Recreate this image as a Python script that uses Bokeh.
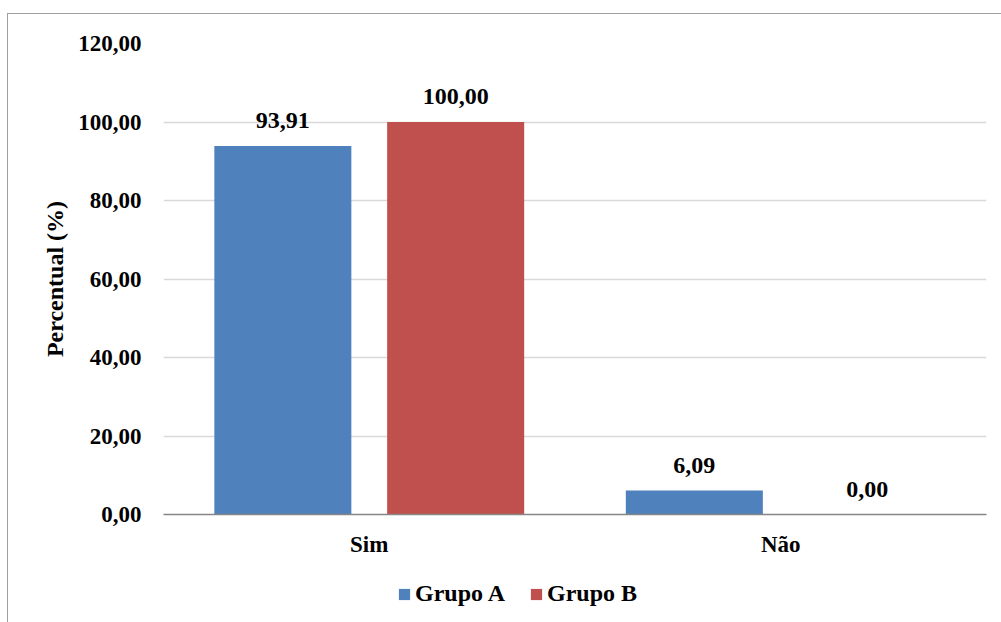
from bokeh.plotting import figure
from bokeh.layouts import column
from bokeh.models import (ColumnDataSource, FactorRange, Range1d, FixedTicker, LabelSet,
                          Legend, LegendItem, InlineStyleSheet)
from bokeh.transform import dodge
from bokeh.embed import file_html
from bokeh.resources import INLINE

categories = ["Sim", "Não"]
series_names = ["Grupo A", "Grupo B"]
grupo_a = [93.91, 6.09]
grupo_b = [100.00, 0.00]
y_ticks = [0, 20, 40, 60, 80, 100, 120]
y_title = "Percentual (%)"


def fmt(v):
    return f"{v:.2f}".replace(".", ",")


FONT = "Liberation Serif"
FS = "24px"
FS_TICK = "23px"
BLUE = "#4f81bd"
RED = "#c0504d"

src = ColumnDataSource(dict(cat=categories, a=grupo_a, b=grupo_b,
                            la=[fmt(v) for v in grupo_a], lb=[fmt(v) for v in grupo_b]))

p = figure(width=1001, height=572, x_range=FactorRange(*categories), y_range=Range1d(0, 120),
           output_backend="svg", toolbar_location=None,
           min_border_left=163, min_border_right=15, min_border_top=43, min_border_bottom=58)
p.outline_line_color = None
p.background_fill_alpha = 0
p.border_fill_alpha = 0

ra = p.vbar(x=dodge("cat", -0.21, range=p.x_range), top="a", width=0.333, source=src,
            fill_color=BLUE, line_color=None)
rb = p.vbar(x=dodge("cat", 0.21, range=p.x_range), top="b", width=0.333, source=src,
            fill_color=RED, line_color=None)

for col, lab, off in (("a", "la", -0.21), ("b", "lb", 0.21)):
    ls = LabelSet(x=dodge("cat", off, range=p.x_range), y=col, text=lab, source=src,
                  text_align="center", text_baseline="alphabetic", y_offset=18,
                  text_font=FONT, text_font_style="bold", text_font_size=FS, text_color="black")
    p.add_layout(ls)

# axes
p.xgrid.grid_line_color = None
p.ygrid.grid_line_color = "#d9d9d9"
p.ygrid.grid_line_width = 1.5
p.yaxis.ticker = FixedTicker(ticks=y_ticks)
p.yaxis.major_label_overrides = {t: fmt(t) for t in y_ticks}
p.yaxis.axis_line_color = None
p.yaxis.major_tick_line_color = None
p.yaxis.minor_tick_line_color = None
p.yaxis.major_label_standoff = 16
p.yaxis.axis_label = y_title
p.yaxis.axis_label_standoff = 7
for ax in (p.xaxis[0], p.yaxis[0]):
    ax.major_label_text_font = FONT
    ax.major_label_text_font_style = "bold"
    ax.major_label_text_font_size = FS_TICK
    ax.major_label_text_color = "black"
    ax.axis_label_text_font = FONT
    ax.axis_label_text_font_style = "bold"
    ax.axis_label_text_font_size = FS
    ax.axis_label_text_color = "black"
p.xaxis.axis_line_color = "#868686"
p.xaxis.axis_line_width = 1.5
p.xaxis.major_tick_line_color = None
p.xaxis.minor_tick_line_color = None
p.xaxis.major_label_standoff = 11

# legend strip
q = figure(width=1001, height=50, x_range=Range1d(0, 1001), y_range=Range1d(0, 50),
           output_backend="svg", toolbar_location=None, x_axis_location=None, y_axis_location=None,
           min_border=0, min_border_left=0, min_border_right=0, min_border_top=0, min_border_bottom=0)
q.outline_line_color = None
q.background_fill_alpha = 0
q.border_fill_alpha = 0
q.xgrid.grid_line_color = None
q.ygrid.grid_line_color = None
dummy = ColumnDataSource(dict(x=[float("nan")], top=[float("nan")]))
qa = q.vbar(x="x", top="top", width=1, source=dummy, fill_color=BLUE, line_color=None)
qb = q.vbar(x="x", top="top", width=1, source=dummy, fill_color=RED, line_color=None)
legend = Legend(items=[LegendItem(label=series_names[0], renderers=[qa]),
                       LegendItem(label=series_names[1], renderers=[qb])],
                location=(234, 15), orientation="horizontal",
                glyph_width=14, glyph_height=14, label_standoff=4, spacing=24,
                padding=0, margin=0, border_line_color=None, background_fill_alpha=0,
                label_text_font=FONT, label_text_font_style="bold", label_text_font_size=FS,
                label_text_color="black")
q.add_layout(legend)

layout = column(p, q, spacing=0)
layout.stylesheets = [InlineStyleSheet(css="""
:host { position: relative; background: white; }
:host::after {
  content: ""; position: absolute; left: 7px; top: 13px;
  width: calc(100% - 7px); height: calc(100% - 13px);
  border-left: 1.5px solid #a0a0a0; border-top: 1.5px solid #a0a0a0;
  box-sizing: border-box; pointer-events: none;
}
""")]

open("out.html", "w").write(file_html(layout, INLINE))
